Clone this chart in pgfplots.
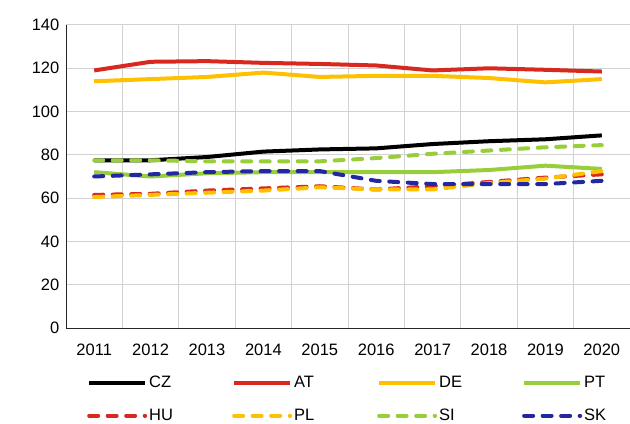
\documentclass[border=0pt]{standalone}
\usepackage{pgfplots}
\pgfplotsset{compat=1.18}
\usepackage{fontspec}
\setmainfont{Liberation Sans}
\definecolor{cRed}{HTML}{D7291F}
\definecolor{cGold}{HTML}{FFC000}
\definecolor{cGreen}{HTML}{97CE3A}
\definecolor{cBlue}{HTML}{2328A0}
\begin{document}
\fontsize{16.5bp}{19bp}\selectfont
\begin{tikzpicture}
\useasboundingbox (-66bp,-96bp) rectangle (564bp,25bp+303bp);
\begin{axis}[
  scale only axis, width=564bp, height=303bp,
  at={(0,0)}, anchor=south west,
  xmin=0.5, xmax=10.5, ymin=0, ymax=140,
  axis x line=bottom, axis y line=left,
  axis line style={-, line width=1bp, black!85},
  xtick={1,...,10},
  xticklabels={2011,2012,2013,2014,2015,2016,2017,2018,2019,2020},
  minor xtick={1.5,2.5,...,9.5},
  ytick={0,20,...,140},
  major tick length=0pt, minor tick length=0pt,
  ymajorgrids, xminorgrids,
  grid style={line width=1bp, gray!35},
  minor grid style={line width=1bp, gray!35},
  /pgf/number format/assume math mode=true,
  tick label style={font=\fontsize{16.5bp}{19bp}\selectfont},
  xticklabel style={yshift=-10bp},
  yticklabel style={xshift=-1bp},
  legend columns=4,
  legend style={draw=none, fill=none, at={(18/564,-0.15)}, anchor=north west,
    font=\fontsize{16.5bp}{19bp}\selectfont,
    inner ysep=0bp,
    /tikz/every even column/.style={column sep=1bp},
    row sep=15bp},
  legend cell align=left,
  legend image code/.code={\draw[#1] (0bp,0bp) -- (56bp,0bp);},
  every axis plot/.append style={line width=4bp, line join=round},
  sol/.style={solid, line cap=butt},
  dsh/.style={line cap=round, dash pattern=on 9bp off 9.5bp},
]
\addplot[sol, black] coordinates {(1,77.5)(2,77.5)(3,79)(4,81.5)(5,82.5)(6,83)(7,85)(8,86.3)(9,87.2)(10,89)};
\addlegendentry{\makebox[80bp][l]{CZ}}
\addplot[sol, cRed] coordinates {(1,119)(2,123)(3,123.3)(4,122.5)(5,122)(6,121.3)(7,119)(8,120)(9,119.3)(10,118.5)};
\addlegendentry{\makebox[80bp][l]{AT}}
\addplot[sol, cGold] coordinates {(1,114)(2,115)(3,116)(4,118)(5,116)(6,116.5)(7,116.5)(8,115.5)(9,113.5)(10,115)};
\addlegendentry{\makebox[80bp][l]{DE}}
\addplot[sol, cGreen] coordinates {(1,72)(2,70)(3,71.5)(4,72)(5,72)(6,72)(7,72)(8,73)(9,75)(10,73.5)};
\addlegendentry{\makebox[80bp][l]{PT}}
\addplot[dsh, cRed] coordinates {(1,61.5)(2,62)(3,63.5)(4,64.5)(5,65.5)(6,64)(7,65.5)(8,67.5)(9,69.5)(10,71)};
\addlegendentry{\makebox[80bp][l]{HU}}
\addplot[dsh, cGold] coordinates {(1,60.5)(2,61.5)(3,62.5)(4,63.5)(5,65)(6,64)(7,64)(8,67)(9,69)(10,72.5)};
\addlegendentry{\makebox[80bp][l]{PL}}
\addplot[dsh, cGreen] coordinates {(1,77.5)(2,77.5)(3,77)(4,77)(5,77)(6,78.5)(7,80.5)(8,82)(9,83.5)(10,84.5)};
\addlegendentry{\makebox[80bp][l]{SI}}
\addplot[dsh, cBlue] coordinates {(1,70)(2,71)(3,72)(4,72.5)(5,72.5)(6,68)(7,66.5)(8,66.5)(9,66.5)(10,68)};
\addlegendentry{\makebox[80bp][l]{SK}}
\end{axis}
\end{tikzpicture}
\end{document}
